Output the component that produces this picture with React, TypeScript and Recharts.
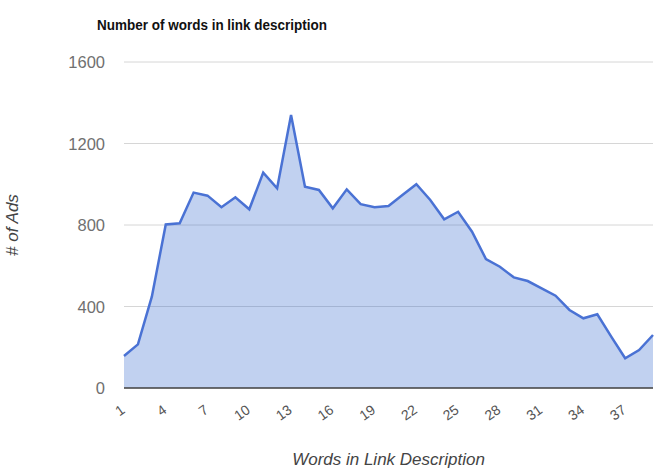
import { AreaChart, Area, XAxis, YAxis, CartesianGrid, ReferenceLine, Label } from "recharts";

const words = [
  1, 2, 3, 4, 5, 6, 7, 8, 9, 10, 11, 12, 13, 14, 15, 16, 17, 18, 19, 20,
  21, 22, 23, 24, 25, 26, 27, 28, 29, 30, 31, 32, 33, 34, 35, 36, 37, 38, 39,
];
const ads = [
  157, 214, 448, 803, 808, 959, 944, 887, 936, 877, 1057, 980, 1340, 988, 972,
  882, 975, 902, 887, 893, 947, 1000, 923, 828, 865, 767, 633, 595, 543, 525,
  489, 453, 383, 342, 362, 252, 146, 186, 260,
];
const xTicks = [1, 4, 7, 10, 13, 16, 19, 22, 25, 28, 31, 34, 37];
const yTicks = [0, 400, 800, 1200, 1600];

const data = words.map((w, i) => ({ words: w, ads: ads[i] }));

const font = "Arial, 'Liberation Sans', sans-serif";

function XTick({ x, y, payload }: any) {
  return (
    <text
      x={0}
      y={0}
      transform={`translate(${x - 1},${y + 20}) rotate(-35)`}
      textAnchor="end"
      dominantBaseline="central"
      fontSize={14}
      fontFamily={font}
      fill="#555"
    >
      {payload.value}
    </text>
  );
}

function YTick({ x, y, payload }: any) {
  return (
    <text
      x={x - 19}
      y={y}
      textAnchor="end"
      dominantBaseline="central"
      fontSize={16.5}
      fontFamily={font}
      fill="#707070"
    >
      {payload.value}
    </text>
  );
}

export default function App() {
  return (
    <div style={{ position: "absolute", left: 0, top: 0, width: 654, height: 471, background: "#fff" }}>
      <div
        style={{
          position: "absolute",
          left: 97,
          top: 16,
          fontFamily: font,
          fontWeight: "bold",
          fontSize: 15.5,
          color: "#111",
          whiteSpace: "nowrap",
          transform: "scaleX(0.87)",
          transformOrigin: "left top",
        }}
      >
        Number of words in link description
      </div>
      <AreaChart
        width={654}
        height={471}
        data={data}
        margin={{ top: 62, right: 1, bottom: 0, left: 0 }}
      >
        <CartesianGrid vertical={false} stroke="#d6d6d6" />
        <XAxis
          dataKey="words"
          type="number"
          domain={[1, 39]}
          ticks={xTicks}
          interval={0}
          height={83}
          axisLine={false}
          tickLine={false}
          tickSize={0}
          tickMargin={0}
          tick={<XTick />}
        >
          <Label
            value="Words in Link Description"
            position="insideBottom"
            offset={6}
            style={{ fontFamily: font, fontStyle: "italic", fontSize: 17, fill: "#444" }}
          />
        </XAxis>
        <YAxis
          type="number"
          domain={[0, 1600]}
          ticks={yTicks}
          width={124}
          axisLine={false}
          tickLine={false}
          tickSize={0}
          tickMargin={0}
          tick={<YTick />}
        >
          <Label
            value="# of Ads"
            angle={-90}
            position="insideLeft"
            offset={12}
            style={{ fontFamily: font, fontStyle: "italic", fontSize: 17, fill: "#444", textAnchor: "middle" }}
          />
        </YAxis>
        <Area
          type="linear"
          dataKey="ads"
          stroke="#4a72d4"
          strokeWidth={2.5}
          fill="#3366cc"
          fillOpacity={0.3}
          isAnimationActive={false}
          dot={false}
          activeDot={false}
        />
        <ReferenceLine y={0} stroke="#444" strokeWidth={1.5} />
      </AreaChart>
    </div>
  );
}
